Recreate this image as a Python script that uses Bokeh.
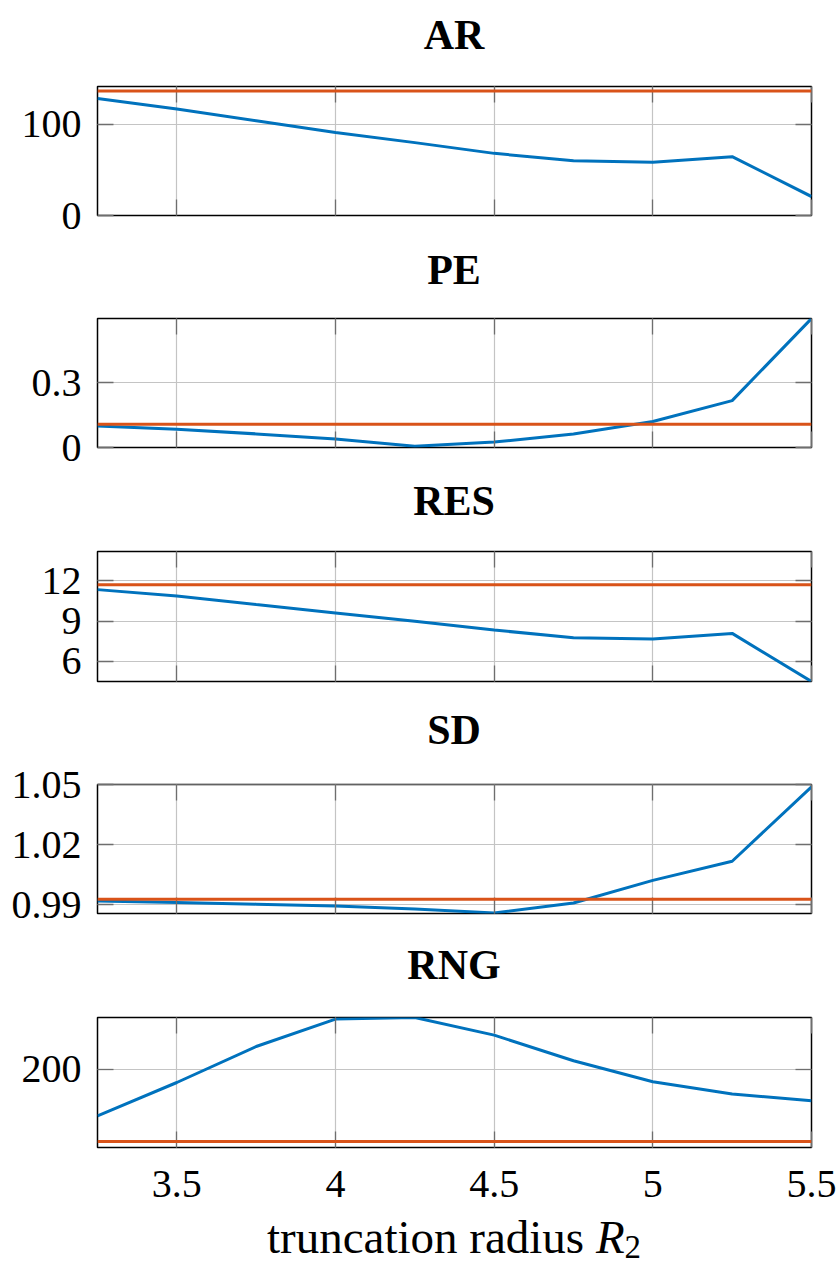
from bokeh.plotting import figure
from bokeh.models import (Range1d, FixedTicker, LinearAxis, Span, Div,
                          CustomJSTickFormatter)
from bokeh.layouts import column
from bokeh.embed import file_html
from bokeh.resources import INLINE

# ---- data -------------------------------------------------------------
r2 = [3.25, 3.5, 3.75, 4.0, 4.25, 4.5, 4.75, 5.0, 5.25, 5.5]
x_ticks = [3.5, 4.0, 4.5, 5.0, 5.5]

ar = [128.5, 116.8, 104.0, 91.2, 80.0, 68.2, 60.2, 58.4, 64.6, 20.8]
ar_ref = 136.6
ar_ticks = [0, 100]

pe = [0.100, 0.085, 0.063, 0.039, 0.006, 0.025, 0.062, 0.120, 0.217, 0.597]
pe_ref = 0.108
pe_ticks = [0, 0.3]

res = [11.33, 10.86, 10.22, 9.60, 8.98, 8.33, 7.76, 7.66, 8.08, 4.51]
res_ref = 11.70
res_ticks = [6, 9, 12]

sd = [0.9918, 0.9910, 0.9902, 0.9892, 0.9877, 0.9858, 0.9908, 1.0021, 1.0117, 1.0490]
sd_ref = 0.9926
sd_ticks = [0.99, 1.02, 1.05]

rng = [153.3, 186.6, 222.6, 250.0, 251.6, 234.0, 208.3, 187.3, 175.0, 168.3]
rng_ref = 127.6
rng_ticks = [200]

panels = [
    ("AR", ar, ar_ref, ar_ticks, (0, 141.6)),
    ("PE", pe, pe_ref, pe_ticks, (0, 0.597)),
    ("RES", res, res_ref, res_ticks, (4.51, 14.16)),
    ("SD", sd, sd_ref, sd_ticks, (0.9855, 1.0502)),
    ("RNG", rng, rng_ref, rng_ticks, (121.6, 251.6)),
]

# ---- layout / styling -------------------------------------------------
FONT = "Liberation Serif"
BLUE = "#0072BD"
ORANGE = "#D95319"
GRID = "#c4c4c4"
TICK = "#6e6e6e"

title_heights = [64, 57, 58, 75, 68]
title_pads = [10, 6, 1, 18, 13]
frame_heights = [129, 129, 130, 129, 130]
bottoms = [24, 24, 6, 14, 63]
TOP = 22

fmt = CustomJSTickFormatter(code="return tick.toString();")
blank = CustomJSTickFormatter(code="return '';")
x_range = Range1d(3.25, 5.5)


def style_axis(ax, ticks, show_labels):
    ax.ticker = FixedTicker(ticks=ticks)
    ax.axis_line_color = None
    ax.major_tick_in = 16
    ax.major_tick_out = 0
    ax.minor_tick_line_color = None
    ax.major_tick_line_color = TICK
    ax.major_tick_line_width = 1.3
    if show_labels:
        ax.formatter = fmt
        ax.major_label_text_font = FONT
        ax.major_label_text_font_size = "40px"
        ax.major_label_text_color = "black"
    else:
        ax.formatter = blank
        ax.major_label_standoff = 0


items = []
for i, (name, vals, ref, yt, yr) in enumerate(panels):
    last = i == len(panels) - 1
    title = Div(text=f'<div style="padding-top:{title_pads[i]}px;'
                     f'line-height:50px">{name}</div>',
                width=714, height=title_heights[i], margin=(0, 0, 0, 97),
                styles={"font-family": FONT, "font-size": "42px",
                        "font-weight": "bold", "text-align": "center",
                        "overflow": "hidden", "color": "black"})
    items.append(title)

    p = figure(width=836, height=TOP + frame_heights[i] + bottoms[i],
               x_range=x_range, y_range=Range1d(*yr), output_backend="svg",
               toolbar_location=None, min_border_left=97,
               min_border_right=25, min_border_top=TOP,
               min_border_bottom=bottoms[i])
    p.outline_line_color = "black"
    p.outline_line_width = 1.5
    p.background_fill_color = "white"
    p.border_fill_color = "white"

    style_axis(p.xaxis[0], x_ticks, last)
    if last:
        p.xaxis[0].major_label_standoff = 23
    style_axis(p.yaxis[0], yt, True)
    p.yaxis[0].major_label_standoff = 16

    top_ax = LinearAxis()
    style_axis(top_ax, x_ticks, False)
    p.add_layout(top_ax, "above")
    right_ax = LinearAxis()
    style_axis(right_ax, yt, False)
    p.add_layout(right_ax, "right")

    p.xgrid.ticker = FixedTicker(ticks=x_ticks)
    p.ygrid.ticker = FixedTicker(ticks=yt)
    for g in (p.xgrid, p.ygrid):
        g.grid_line_color = GRID
        g.grid_line_width = 1.2

    p.add_layout(Span(location=ref, dimension="width", line_color=ORANGE,
                      line_width=3))
    p.line(r2, vals, line_color=BLUE, line_width=3)
    items.append(p)

label = Div(text='truncation radius <i>R</i><sub style="font-size:70%;'
                 'vertical-align:-0.15em;line-height:0">2</sub>',
            width=714, height=54, margin=(0, 0, 0, 97),
            styles={"font-family": FONT, "font-size": "47px",
                    "text-align": "center", "line-height": "54px",
                    "overflow": "hidden", "color": "black"})
items.append(label)

layout = column(*items, spacing=0)
open("out.html", "w").write(file_html(layout, INLINE))
